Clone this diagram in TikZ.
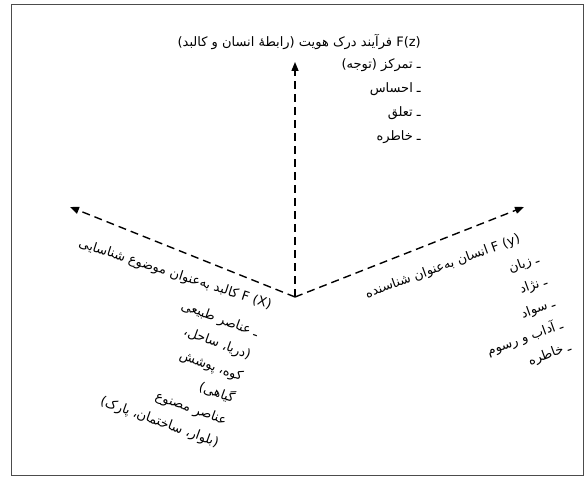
\documentclass[tikz,border=0pt]{standalone}
\usepackage{fontspec}
\usetikzlibrary{arrows.meta}
\TeXXeTstate=1
\newfontfamily\arabicfont[Script=Arabic]{DejaVu Sans}
\newcommand{\pers}[1]{\beginR #1\endR}

\begin{document}
\begin{tikzpicture}[x=1pt,y=1pt,
    axis/.style={line width=1.4pt, dash pattern=on 8pt off 5pt, -{Triangle[length=9pt,width=7pt]}},
    fatext/.style={font=\arabicfont\fontsize{13}{15}\selectfont, inner sep=0pt, anchor=base east}]
    \useasboundingbox (0,0) rectangle (585,478);
    % frame
    \draw[black!70, line width=0.8pt] (11,3) rectangle (583,474);

    % axes
    \coordinate (o) at (295,181);
    \coordinate (z) at (295,416);
    \coordinate (x) at (70,271);
    \coordinate (y) at (524,271);
    \draw[axis] (o) -- (z);
    \draw[axis] (o) -- (x);
    \draw[axis] (o) -- (y);

    % z: identity
    \node[fatext] (ztitle) at (421,431) {\pers{\beginL F(z)\endL{} فرآیند درک هویت (رابطهٔ انسان و کالبد)}};
    \foreach \txt [count=\i] in {{ـ تمرکز (توجه)}, {ـ احساس}, {ـ تعلق}, {ـ خاطره}}
        \node[fatext] (zitem\i) at (421,{409-24*(\i-1)}) {\pers{\txt}};

    % x: place
    \node[fatext, rotate=-18] (xlabel) at (270,169) {\pers{\beginL F (X)\endL{} کالبد به‌عنوان موضوع شناسایی}};
    \foreach \txt [count=\i] in {{ـ عناصر طبیعی}, {(دریا، ساحل،}, {کوه، پوشش}, {گیاهی)}, {عناصر مصنوع}, {(بلوار، ساختمان، پارک)}}
        \node[fatext, rotate=-20] (xitem\i) at ({257-8*(\i-1)},{141-22*(\i-1)}) {\pers{\txt}};

    % y: human
    \node[fatext, rotate=20] (ylabel) at (521,236) {\pers{\beginL F (y)\endL{} انسان به‌عنوان شناسنده}};
    \foreach \txt [count=\i] in {{ـ زبان}, {ـ نژاد}, {ـ سواد}, {ـ آداب و رسوم}, {ـ خاطره}}
        \node[fatext, rotate=20] (yitem\i) at ({540+8*(\i-1)},{216-22*(\i-1)}) {\pers{\txt}};
\end{tikzpicture}
\end{document}
